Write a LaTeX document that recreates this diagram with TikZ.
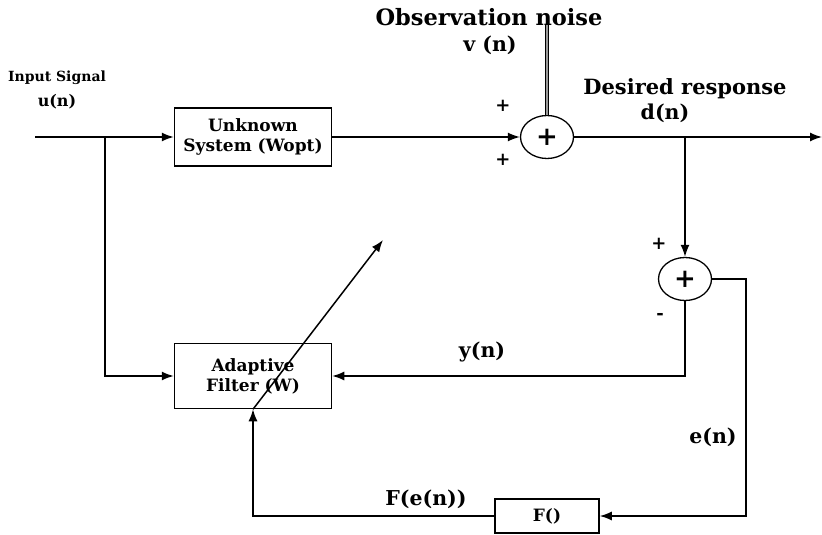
\documentclass[tikz,border=0pt]{standalone}
\usepackage{fontspec}
\setmainfont{DejaVu Serif}
\usetikzlibrary{arrows.meta,shapes.geometric}

\newcommand{\titlefont}{\fontsize{21}{22}\selectfont\bfseries}
\newcommand{\lblfont}{\fontsize{20.5}{22}\selectfont\bfseries}
\newcommand{\boxfont}{\fontsize{17}{20}\selectfont\bfseries}
\newcommand{\smallfont}{\fontsize{14}{16}\selectfont\bfseries}

\tikzset {
  blockbox/.style = {
    draw,
    line width=1.5pt,
    minimum width=157pt,
    minimum height=58pt,
    inner sep=0pt,
    align=center,
    font=\boxfont
  },
  sumnode/.style = {
    draw,
    ellipse,
    line width=1.3pt,
    minimum width=53pt,
    minimum height=43pt,
    inner sep=0pt,
    font=\fontsize{26}{26}\selectfont\bfseries
  },
  sig/.style = {
    -{Latex[length=12pt,width=9pt]},
    line width=1.5pt
  },
  lbl/.style = {font=\lblfont, align=center, inner sep=0pt},
  sign/.style = {font=\fontsize{18}{18}\selectfont\bfseries, inner sep=0pt}
}

\begin{document}
\begin{tikzpicture}[x=1pt, y=-1pt]

\useasboundingbox (0,0) rectangle (822,535);

% --- Blocks ---
\node[blockbox] (unk) at (253,137) {Unknown\\System (Wopt)};
\node[blockbox, minimum height=65pt] (adf) at (253,376) {Adaptive\\Filter (W)};
\node[blockbox, minimum width=104pt, minimum height=34pt, font=\fontsize{17}{17}\selectfont\bfseries] (fbox) at (547,516) {F()};

% --- Summing junctions ---
\node[sumnode] (sum1) at (547,137) {+};
\node[sumnode] (sum2) at (685,279) {+};

% --- Free ends and corners ---
\coordinate (uin)   at (35,137);
\coordinate (ubr)   at (105,137);
\coordinate (dout)  at (822,137);
\coordinate (dbr)   at (685,137);
\coordinate (vtop)  at (547,24);
\coordinate (ecor)  at (746,516);
\coordinate (wtip)  at (383,240);

% --- Forward path ---
\draw[sig] (uin) -- (unk.west);
\draw[sig] (ubr) |- (adf.west);
\draw[sig] (unk.east) -- (sum1.west);
\draw[line width=1.8pt, double=gray!80, double distance=1.2pt] (vtop) -- (sum1.north);
\draw[sig] (sum1.east) -- (dout);
\draw[sig] (dbr) -- (sum2.north);

% --- Error and adaptation loop ---
\draw[sig, {Latex[length=12pt,width=9pt]}-] (adf.east) -| (sum2.south);
\draw[sig] (sum2.east) -| (ecor) -- (fbox.east);
\draw[sig] (fbox.west) -| (adf.south);
\draw[sig] (adf.south) -- (wtip);

% --- Labels ---
\node[lbl, font=\smallfont] (lin) at (57,78) {Input Signal};
\node[lbl, font=\fontsize{16}{16}\selectfont\bfseries] (lu) at (57,102) {u(n)};
\node[lbl, font=\fontsize{22.5}{26}\selectfont\bfseries] (lnoise) at (489,17) {Observation noise};
\node[lbl] (lv) at (490,45) {v (n)};
\node[lbl, font=\titlefont] (ldes) at (685,89) {Desired response};
\node[lbl] (ld) at (665,113) {d(n)};
\node[lbl] (ly) at (482,352) {y(n)};
\node[lbl] (le) at (713,437) {e(n)};
\node[lbl] (lf) at (426,499) {F(e(n))};

% --- Signs ---
\node[sign] (p1) at (503,106) {+};
\node[sign] (p2) at (503,160) {+};
\node[sign] (p3) at (659,244) {+};
\node[sign] (m1) at (660,316) {-};

\end{tikzpicture}
\end{document}
